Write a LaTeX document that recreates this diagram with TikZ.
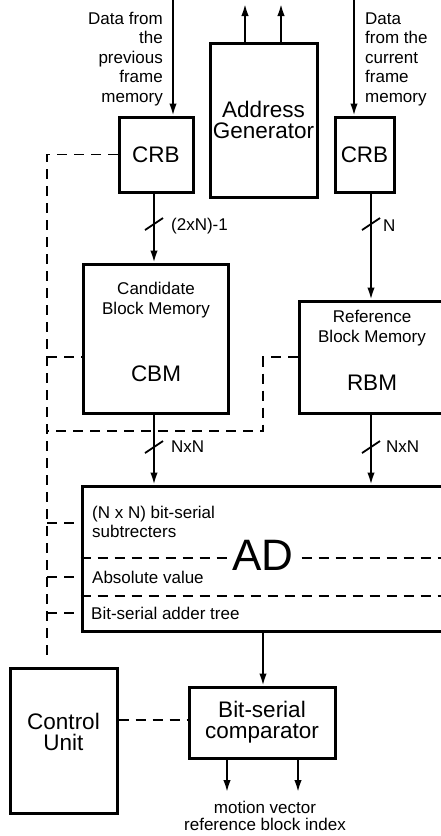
\documentclass[tikz,border=0pt]{standalone}
\usepackage{fontspec}
\setmainfont{Liberation Sans}
\usetikzlibrary{arrows.meta}
\begin{document}
\begin{tikzpicture}[x=1pt,y=-1pt,
  box/.style={draw, line width=3pt, inner sep=0pt},
  conn/.style={line width=1.9pt},
  arr/.style={conn, -{Latex[length=12pt,width=7.5pt]}},
  ctl/.style={line width=1.7pt, dash pattern=on 10pt off 7pt},
  bus/.style={line width=1.8pt},
  small/.style={font=\fontsize{17}{19.5}\selectfont, inner sep=0pt},
  big/.style={font=\fontsize{22.5}{21}\selectfont, align=center},
]
\clip (0,0) rectangle (441,836);
\fill[white] (0,0) rectangle (441,836);

% boxes
\node[box, minimum width=74pt, minimum height=75pt, big] (crbL) at (156,154.5) {CRB};
\node[box, minimum width=107pt, minimum height=154pt, big] (addr) at (263.5,120) {Address\\Generator};
\node[box, minimum width=59pt, minimum height=75pt, big] (crbR) at (364.5,154.5) {CRB};
\node[box, minimum width=145pt, minimum height=149pt] (cbm) at (155.5,338.5) {};
\node[box, minimum width=160pt, minimum height=112pt] (rbm) at (379,357) {};
\node[box, minimum width=378pt, minimum height=145pt] (ad) at (271,558.5) {};
\node[box, minimum width=146pt, minimum height=71pt, big] (comp) at (262,722.5) {Bit-serial\\comparator};
\node[box, minimum width=107pt, minimum height=145pt] (ctrl) at (63.5,740.5) {};

% texts
\node[small, align=right, anchor=east] (txtL) at (163,59) {Data from\\the\\previous\\frame\\memory};
\node[small, align=left, anchor=west] (txtR) at (365,59) {Data\\from the\\current\\frame\\memory};
\node[small, align=center] (cbmt) at (156,300) {Candidate\\Block Memory};
\node[big] (cbml) at (156,374) {CBM};
\node[small, align=center] (rbmt) at (372,328) {Reference\\Block Memory};
\node[big] (rbml) at (372,383) {RBM};
\node[small, align=left, anchor=west] (ad1) at (92,522) {(N x N) bit-serial\\subtrecters};
\node[small, anchor=west] (ad2) at (92,577) {Absolute value};
\node[small, anchor=west] (ad3) at (91,613) {Bit-serial adder tree};
\node[big] (ctrlt) at (63.5,732) {Control\\Unit};
\node[font=\fontsize{17}{17}\selectfont, align=center, inner sep=0pt] (outt) at (265,816) {motion vector\\reference block index};

% AD inner dashed lines
\draw[ctl] (ad.west |- 0,558) -- (460,558);
\draw[ctl] (ad.west |- 0,596) -- (460,596);
\node[font=\fontsize{44}{44}\selectfont, fill=white, inner xsep=4pt, inner ysep=0pt] (adl) at (263,555) {AD};

% inputs
\coordinate (inL) at (173,0);
\coordinate (inR) at (354,0);
\draw[arr] (inL) -- (inL |- crbL.north);
\draw[arr] (inR) -- (inR |- crbR.north);
% address generator outputs
\coordinate (ag1) at (245,4);
\coordinate (ag2) at (281,4);
\draw[arr] (ag1 |- addr.north) -- (ag1);
\draw[arr] (ag2 |- addr.north) -- (ag2);

% buses
\coordinate (xL) at (154,0);
\coordinate (xR) at (371,0);
\draw[arr] (xL |- crbL.south) -- (xL |- cbm.north);
\draw[arr] (xR |- crbR.south) -- (xR |- rbm.north);
\draw[arr] (xL |- cbm.south) -- (xL |- ad.north);
\draw[arr] (xR |- rbm.south) -- (xR |- ad.north);
\draw[arr] (263,0 |- ad.south) -- (263,0 |- comp.north);
\coordinate (o1) at (227,792);
\coordinate (o2) at (298,792);
\draw[arr] (o1 |- comp.south) -- (o1);
\draw[arr] (o2 |- comp.south) -- (o2);

% bus width marks
\draw[bus] (145,230) -- (163,218);
\draw[bus] (362,230) -- (380,218);
\draw[bus] (145,453) -- (163,441);
\draw[bus] (362,453) -- (380,441);
\node[small, anchor=west] (l1) at (171,226) {(2xN)-1};
\node[small, anchor=west] (l2) at (383,226) {N};
\node[small, anchor=west] (l3) at (171,447) {NxN};
\node[small, anchor=west] (l4) at (386,447) {NxN};

% control (dashed) lines
\coordinate (cx) at (47,0);
\coordinate (cend) at (47,655);
\draw[ctl] (crbL.west) -- (cx |- crbL.west) -- (cend);
\draw[ctl] (cx |- 0,357) -- (cbm.west |- 0,357);
\draw[ctl] (rbm.west |- 0,357) -- (263,357) -- (263,431) -- (cx |- 0,431);
\draw[ctl] (cx |- 0,523) -- (ad.west |- 0,523);
\draw[ctl] (cx |- 0,577) -- (ad.west |- 0,577);
\draw[ctl] (cx |- 0,613) -- (ad.west |- 0,613);
\draw[ctl] (ctrl.east |- 0,720) -- (comp.west |- 0,720);
\end{tikzpicture}
\end{document}
